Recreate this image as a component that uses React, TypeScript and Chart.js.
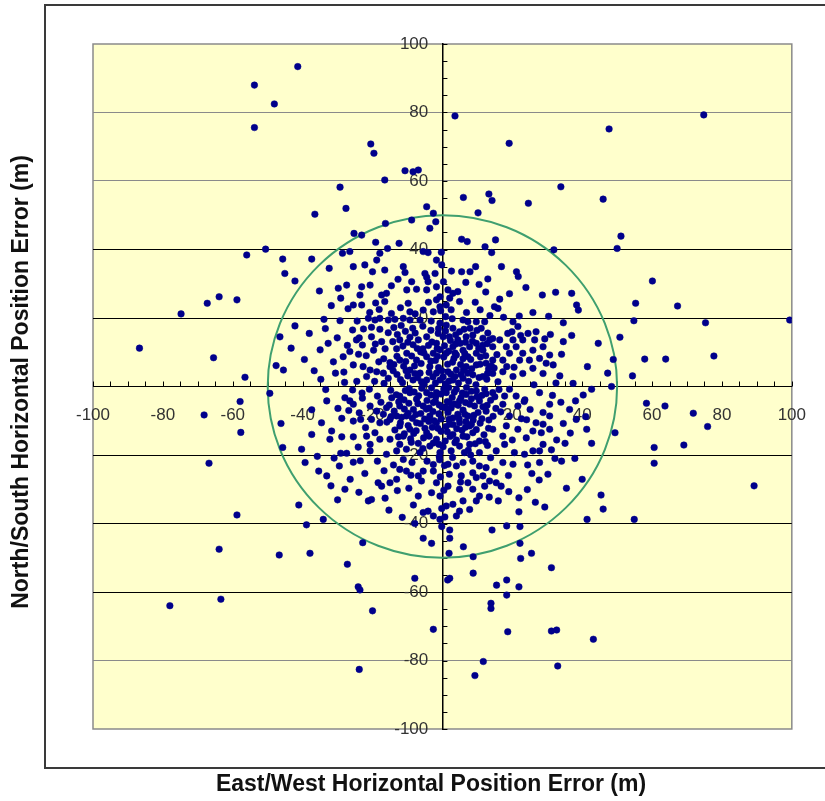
import React, { useEffect, useRef } from "react";
import { Chart, registerables } from "chart.js";

Chart.register(...registerables);

// Axis settings
const AXIS_MIN = -100;
const AXIS_MAX = 100;
const MAJOR_STEP = 20;
const MINOR_STEP = 5;
const CEP_RADIUS = 50; // green reference circle (m)
const GRAY_GRID_VALUES = [80, 60, -80];
const X_TITLE = "East/West Horizontal Position Error (m)";
const Y_TITLE = "North/South Horizontal Position Error (m)";

// [east, north] position errors in metres
const upperLeftPoints: number[][] = [
  [-41.4,93.4],[-53.8,88.0],[-48.1,82.5],[-53.8,75.6],[-20.5,70.8],[-19.6,68.1],[-10.7,63.0],[-8.4,62.7],[-6.9,63.2],[-16.5,60.3],
  [-29.3,58.2],[-27.6,52.0],[-36.5,50.3],[-16.3,47.6],[-8.8,48.6],[-25.3,44.7],[-23.1,44.2],[-19.1,42.1],[-15.7,40.3],[-12.4,41.8],
  [-28.6,38.9],[-26.5,39.4],[-56.0,38.4],[-50.6,40.1],[-45.7,37.2],[-37.4,37.2],[-45.1,33.0],[-42.2,30.8],[-32.4,34.5],[-25.5,35.0],
  [-22.2,35.5],[-18.8,36.9],[-16.5,34.0],[-11.2,35.0],[-29.8,28.7],[-27.4,29.6],[-23.1,29.1],[-20.7,29.6],[-35.2,27.9],[-23.6,26.7],
  [-16.0,27.2],[-10.2,28.2],[-67.3,24.3],[-63.9,26.2],[-58.8,25.3],[-74.8,21.2],[-25.5,23.8],[-23.1,23.8],[-16.5,24.8],[-9.8,24.3],
  [-9.3,21.8],[-42.2,17.7],[-38.1,15.5],[-33.9,19.6],[-29.3,19.2],[-25.7,16.5],[-46.5,14.5],[-43.3,11.2],[-86.7,11.2],[-65.5,8.4],
  [-35.0,10.7],[-32.7,12.6],[-39.5,7.9],[-47.6,6.1],[-45.5,4.8],[-56.5,2.7],[-34.8,2.1],[-31.2,7.2],[-28.4,8.7],[-26.5,10.2],
  [-17.9,38.9],[-5.5,39.4],[-4.1,39.1],[-20.0,33.5],[-10.7,33.3],[-5.0,33.0],[-4.5,31.9],[-4.1,30.6],[-8.8,30.6],[-7.4,28.4],
  [-17.4,26.7],[-4.5,28.2],[-1.7,25.3],[-0.7,23.3],[-5.5,22.3],[-2.6,21.8],[-21.2,19.9],[-19.3,19.4],[-17.9,19.9],[-15.5,19.4],
  [-13.6,19.6],[-11.2,19.9],[-9.3,19.4],[-6.4,19.4],[-20.3,17.3],[-17.9,16.7],[-20.3,14.5],[-15.5,15.7],[-17.4,13.1],[-12.2,13.6],
  [-9.3,14.4],[-6.9,13.6],[-4.5,14.5],[-25.5,6.3],[-22.7,5.8],[-20.7,4.8],[-21.7,2.9],[-18.8,4.3],[-16.9,3.9],[-15.0,5.8],
  [-15.5,2.4],[-12.2,7.7],[-10.2,9.7],[-7.4,7.7],[-4.5,8.7],[-2.6,9.7],[-0.7,10.7],[-9.3,4.8],[-6.4,3.9],[-3.6,5.8],
  [-1.7,3.9],[-8.4,1.9],[-4.5,1.9],[-0.7,1.9],[-2.1,33.0],[-1.7,29.1],[-0.7,26.2],[-0.7,18.5],[-1.2,15.5],[-1.7,12.6],[0.2,14.5],
];

const upperRightPoints: number[][] = [
  [3.6,79.0],[19.1,71.0],[47.7,75.2],[74.8,79.3],[33.9,58.3],[46.0,54.7],[24.6,53.5],[6.0,55.2],[13.3,56.2],[14.2,54.3],
  [10.2,50.7],[-4.5,52.5],[-2.6,50.6],[-1.9,48.1],[-3.6,46.2],[51.1,43.9],[50.0,40.3],[31.9,39.9],[5.5,43.0],[7.1,42.3],
  [15.2,42.8],[12.2,40.8],[14.1,39.1],[16.9,35.0],[21.2,33.5],[21.7,32.1],[2.6,33.7],[5.5,33.5],[7.9,33.5],[9.5,35.0],
  [-0.2,35.5],[-1.7,36.9],[10.5,29.8],[60.1,30.8],[55.3,24.3],[67.3,23.5],[28.6,26.7],[32.4,27.5],[37.0,27.2],[38.4,23.8],
  [38.9,22.3],[54.8,19.2],[75.3,18.6],[99.4,19.4],[34.6,18.6],[34.6,13.1],[34.1,9.4],[44.6,12.6],[50.8,14.4],[48.9,7.9],
  [57.9,8.0],[63.9,8.0],[77.7,8.9],[41.5,5.8],[47.3,3.9],[54.4,3.1],[33.6,3.1],[31.7,6.3],[29.3,13.9],[48.4,0.0],
  [42.7,-0.8],[40.3,-2.5],[37.4,0.9],
  [1.6,28.2],[3.0,27.2],[4.4,27.7],[2.1,25.8],[4.9,24.8],[1.1,23.8],[9.4,24.6],[16.4,25.5],[14.9,23.3],[15.9,22.8],
  [5.9,19.4],[7.3,18.9],[9.7,18.9],[12.1,18.9],[20.2,18.9],[21.6,17.5],
  [1.1,17.9],[3.0,17.0],[4.9,16.0],[2.0,14.5],[4.4,13.6],[6.8,14.5],[8.7,15.0],[11.1,17.0],[11.6,14.1],[13.5,13.6],
  [9.7,12.6],[7.8,11.6],[5.9,10.6],[3.0,11.6],[1.1,9.7],[4.0,9.2],[7.3,8.7],[9.7,9.7],[11.6,10.6],[14.4,11.6],
  [16.4,13.6],[18.7,15.5],[20.2,13.6],[18.3,11.6],[21.1,11.6],[23.0,13.6],[24.5,15.5],[26.8,16.0],[26.4,13.6],[28.8,11.6],
  [25.9,10.6],[23.0,9.7],[19.2,9.7],[17.3,7.7],[14.4,7.7],[12.5,6.8],[9.7,6.3],[6.8,5.8],[4.0,4.8],[1.6,4.3],
  [22.1,7.7],[24.9,7.7],[27.8,8.2],[30.7,9.2],[29.7,6.8],[25.9,5.3],[28.8,3.8],[23.0,3.8],[20.2,2.9],[17.3,4.3],
  [14.4,3.8],[11.6,2.9],[8.7,3.4],[5.9,2.4],[3.0,1.9],
];

const lowerLeftPoints: number[][] = [
  [-57.9,-4.4],[-68.2,-8.3],[-57.7,-13.4],[-49.4,-2.0],[-46.2,-10.8],[-66.8,-22.4],[-45.7,-17.8],[-29.1,-19.5],[-27.4,-19.5],[-28.8,-14.7],
  [-25.5,-14.7],[-41.1,-34.6],[-38.9,-40.4],[-58.8,-37.5],[-63.9,-47.5],[-46.7,-49.2],[-37.9,-48.7],[-27.2,-51.9],[-22.8,-45.6],[-24.1,-58.5],
  [-23.6,-59.4],[-20.0,-65.5],[-78.0,-64.0],[-63.4,-62.1],[-23.8,-82.6],[-7.9,-56.0],
  [-33.1,-4.2],[-27.9,-3.3],[-26.5,-4.2],[-25.5,-5.2],[-34.6,-10.6],[-28.8,-9.3],[-25.5,-10.1],[-23.4,-9.6],[-18.6,-2.8],[-14.5,-3.3],
  [-20.7,-5.7],[-18.8,-7.2],[-16.0,-6.2],[-16.9,-8.1],[-20.3,-9.6],[-17.9,-10.6],[-15.0,-9.6],[-31.7,-13.0],[-32.2,-15.4],[-37.4,-14.0],
  [-24.1,-17.7],[-20.7,-16.9],[-40.3,-18.3],[-39.3,-22.2],[-21.7,-14.5],[-19.3,-13.5],[-17.9,-15.4],[-20.7,-18.8],[-16.0,-19.8],[-15.0,-15.4],
  [-12.2,-16.9],[-13.1,-18.8],[-10.3,-18.3],[-11.2,-14.5],[-9.3,-12.5],[-7.4,-10.6],[-12.2,-11.5],[-10.3,-8.6],[-8.3,-6.7],[-12.2,-5.7],
  [-13.1,-8.6],[-7.4,-3.7],[-5.5,-5.7],[-2.6,-4.7],[-3.6,-8.6],[-1.7,-10.6],[-4.5,-13.5],[-1.7,-15.4],[-3.6,-17.4],[-6.4,-19.3],
  [-0.7,-19.3],[-1.7,-1.8],[-4.5,-1.8],[-9.3,-1.8],[-12.2,-2.8],[-33.1,-26.1],[-29.5,-23.2],[-22.2,-25.4],[-31.9,-29.0],[-27.9,-30.0],
  [-18.4,-28.1],[-17.4,-29.1],[-15.0,-28.1],[-21.2,-33.4],[-20.3,-33.0],[-12.2,-24.2],[-10.3,-24.7],[-13.1,-27.1],[-6.9,-26.1],[-5.5,-24.7],
  [-6.0,-27.6],[-2.6,-24.7],[-1.7,-28.1],[-0.7,-32.0],[-3.1,-31.0],[-6.9,-32.0],[-5.5,-36.8],[-4.1,-36.4],[-2.6,-37.8],[-0.7,-38.8],
  [-34.1,-38.8],
];

const lowerRightPoints: number[][] = [
  [58.4,-4.9],[63.7,-5.7],[71.8,-7.8],[75.9,-11.7],[60.6,-17.8],[60.6,-22.4],[69.1,-17.1],[89.2,-29.0],[49.4,-13.5],[42.7,-16.6],
  [41.3,-12.5],[41.0,-8.8],[34.6,-10.8],[32.7,-15.6],[35.1,-16.6],[31.2,-18.5],[34.1,-21.8],[37.9,-21.0],[40.0,-27.1],[35.5,-29.7],
  [45.4,-31.7],[46.0,-35.8],[41.4,-38.8],[54.9,-38.8],[27.7,-27.3],[24.4,-22.9],[21.9,-32.5],[21.9,-36.6],[22.2,-40.9],[16.0,-33.4],
  [18.4,-40.7],[14.2,-41.9],[22.2,-45.8],[22.4,-50.2],[25.5,-48.7],[31.2,-52.9],[8.8,-49.7],[8.8,-54.5],[6.0,-46.8],[2.1,-41.9],
  [2.1,-44.3],[1.9,-48.7],[1.5,-56.5],[2.1,-56.0],[-5.5,-44.3],[-3.1,-45.8],[15.5,-58.0],[18.4,-56.5],[18.4,-60.9],[21.9,-58.5],
  [13.9,-63.3],[13.9,-64.8],[-2.6,-70.9],[18.7,-71.6],[31.2,-71.4],[32.7,-71.1],[43.2,-73.8],[11.7,-80.3],[9.3,-84.4],[33.0,-81.6],
  [-0.2,-40.9],
  [1.1,-1.8],[4.0,-0.8],[6.8,-2.3],[9.7,-1.3],[12.1,-0.8],[2.0,-4.7],[4.9,-4.2],[7.8,-5.2],[10.6,-4.2],[1.6,-7.6],
  [4.4,-8.1],[7.3,-8.6],[10.2,-7.6],[12.5,-7.2],[2.0,-11.0],[4.9,-10.6],[7.8,-11.5],[3.0,-14.0],[5.9,-14.5],[8.7,-13.5],
  [4.9,-17.4],[7.8,-16.9],[10.6,-15.9],[2.5,-18.8],[6.3,-19.3],[10.6,-19.3],[14.4,-1.8],[17.8,-2.8],[21.1,-2.8],[17.3,-5.2],
  [21.6,-5.7],[19.2,-8.6],[27.8,-1.8],[30.7,-5.2],[28.8,-7.6],[30.7,-8.6],[28.8,-11.0],[26.8,-10.6],[25.9,-13.0],[28.3,-13.5],
  [24.0,-15.0],[21.6,-12.5],[14.4,-12.5],[17.3,-14.5],[17.8,-16.9],[15.4,-18.8],[20.6,-19.3],[23.5,-19.8],[25.9,-18.8],[28.8,-16.9],
  [27.8,-18.8],[36.4,-6.7],[38.3,-9.6],[30.7,-12.5],[1.6,-22.7],[4.0,-23.2],[5.9,-22.2],[8.7,-21.8],[10.6,-23.2],[12.5,-23.7],
  [17.3,-22.2],[20.2,-22.7],[27.8,-22.2],[2.0,-25.6],[5.4,-26.1],[8.7,-25.2],[9.7,-26.6],[11.6,-26.1],[13.5,-27.6],[7.3,-28.1],
  [1.6,-29.1],[4.9,-30.0],[8.7,-30.0],[12.1,-29.1],[15.4,-28.1],[16.8,-29.1],[10.6,-32.0],[3.0,-34.4],[5.9,-33.4],[9.7,-33.4],
  [4.9,-36.4],[7.8,-35.9],[4.0,-37.8],[1.1,-34.9],
];

const corePoints: number[][] = [
  [-14.2,13.1],[-11.3,11.8],[-8.4,12.2],[-5.6,11.0],[-3.0,13.0],[0.6,11.9],[2.3,13.4],[5.1,12.6],[8.6,13.2],[10.4,11.1],
  [12.8,12.5],[-6.2,10.1],[1.8,10.3],[6.4,9.6],
  [-16.8,8.1],[-13.9,6.4],[-11.1,5.9],[-8.8,8.9],[-6.1,6.7],[-2.0,7.6],[0.4,8.6],[2.9,7.1],[5.2,6.4],[8.1,7.9],
  [10.9,8.6],[13.2,5.1],[15.6,9.3],[-18.2,7.2],[-1.1,5.5],[3.6,9.8],
  [-13.0,3.5],[-11.4,1.1],[-7.1,2.6],[-5.3,0.6],[-2.7,2.8],[0.9,0.8],[2.4,3.6],[4.6,1.0],[7.2,3.9],[9.6,0.5],
  [12.7,2.1],[15.9,1.4],[-16.7,0.9],[-19.4,1.5],[-9.9,3.1],[-0.2,4.6],[6.0,4.8],
  [-14.8,-1.1],[-11.0,-3.9],[-9.5,-0.6],[-6.8,-2.7],[-4.4,-4.1],[-1.9,-3.0],[0.4,-0.7],[2.8,-3.2],[5.7,-1.9],[8.3,-3.6],
  [11.3,-2.6],[13.8,-4.0],[16.2,-0.9],[-17.6,-4.6],[-0.9,-5.4],[3.5,-5.1],[-3.1,-0.4],[6.9,-0.3],
  [-13.8,-7.2],[-10.9,-6.6],[-8.6,-9.3],[-6.2,-7.9],[-4.6,-6.6],[-1.0,-8.0],[0.9,-6.2],[3.0,-9.2],[5.9,-6.9],[8.8,-9.8],
  [11.6,-5.9],[14.5,-8.7],[-15.9,-10.4],[-2.4,-10.0],[6.7,-10.2],[1.4,-4.4],
  [-13.6,-12.7],[-10.9,-13.8],[-7.5,-12.9],[-5.4,-15.0],[-2.9,-11.9],[-0.4,-13.1],[2.2,-14.6],[4.1,-12.3],[6.6,-11.9],[9.7,-12.6],
  [11.9,-14.1],[-6.3,-10.8],[0.8,-15.9],
  [-8.9,-16.3],[-5.6,-18.1],[-2.6,-16.5],[0.2,-17.6],[3.6,-16.4],[7.4,-18.6],[-0.9,-20.5],[12.9,-17.2],
  [-0.5,22.1],[0.3,30.6],[-0.3,39.2],[0.6,-23.1],[-0.6,-26.4],[0.4,-30.3],[-0.2,-35.6],[0.7,-38.1],[-1.1,16.9],[0.9,20.4],[-0.8,-21.4],
];

const denseCorePoints: number[][] = [
  [-12.9,15.2],[-10.6,16.1],[-7.8,15.6],[-3.3,16.4],[0.9,16.2],[3.8,15.1],[6.2,16.7],[9.9,16.4],[13.0,15.6],
  [-13.1,11.0],[-9.9,12.9],[-7.2,11.1],[-4.0,12.0],[-1.5,11.1],[3.8,12.4],[6.6,12.9],[11.5,12.0],[14.4,14.0],
  [-15.0,7.0],[-13.0,8.8],[-10.5,7.3],[-8.0,6.0],[-5.3,9.8],[-3.3,7.4],[-1.4,8.8],[1.5,6.5],[3.3,8.2],[5.9,8.1],
  [8.4,5.2],[10.8,6.5],[12.4,9.0],[14.0,6.0],
  [-14.1,4.6],[-12.0,2.0],[-10.4,4.6],[-7.9,3.8],[-6.0,1.4],[-3.8,4.1],[-2.0,1.0],[0.2,2.8],[1.9,1.6],[3.6,2.9],
  [5.3,3.5],[7.5,1.5],[10.5,2.6],[12.9,3.8],[14.8,5.4],
  [-13.2,-2.4],[-10.6,-1.2],[-8.1,-1.6],[-5.9,-0.5],[-3.3,-2.5],[-0.4,-2.2],[1.8,-0.3],[3.4,-1.7],[5.3,-3.3],[8.3,-1.4],
  [9.9,-3.0],[12.5,-2.1],[15.0,-3.0],
  [-15.2,-5.4],[-12.5,-4.5],[-9.6,-4.9],[-7.0,-5.0],[-3.8,-6.3],[-2.0,-4.3],[-0.1,-6.0],[2.5,-6.3],[4.5,-5.5],[6.6,-4.7],
  [9.2,-5.7],[12.8,-5.5],[15.3,-6.4],
  [-14.7,-8.8],[-11.7,-9.0],[-9.8,-7.8],[-7.6,-8.2],[-5.1,-9.5],[-2.7,-7.3],[-0.4,-9.5],[1.9,-9.6],[4.8,-9.4],[6.4,-8.1],
  [9.0,-8.4],[11.3,-9.4],[13.3,-9.8],
  [-12.0,-10.6],[-9.8,-11.4],[-8.2,-13.7],[-5.0,-12.2],[-3.9,-10.2],[-1.3,-12.2],[1.0,-11.7],[3.0,-11.1],[5.6,-12.8],[8.3,-11.0],
  [10.8,-10.7],[13.2,-12.2],
  [-12.6,-14.7],[-9.1,-15.3],[-6.9,-16.6],[-3.8,-14.5],[-1.0,-16.9],[1.4,-13.2],[4.0,-15.6],[7.0,-14.7],[9.4,-16.7],[12.3,-16.1],
  [-13.9,17.2],[-11.8,17.8],[-8.5,17.0],[-5.6,17.6],[-3.2,19.1],[2.8,19.8],[7.9,17.0],[-22.9,12.1],[-24.0,9.4],[-19.7,10.6],[-16.4,11.0],
  [-11.2,-21.3],[-8.7,-22.2],[-4.4,-21.8],[-2.6,-22.8],[2.9,-20.7],[8.1,-20.0],[13.8,-20.8],
  [-20.8,21.6],[-18.1,22.5],[-14.6,21.3],[-12.0,23.0],[-7.8,21.2],[-4.0,24.6],[2.5,22.4],[6.9,21.6],[10.8,22.4],[13.6,20.7],
  [17.5,20.2],[19.9,16.0],[22.4,14.9],[-22.6,16.8],[-23.8,14.2],[-21.8,9.0],[-19.2,12.4],[18.4,5.8],[20.5,5.6],[16.7,-7.4],
  [18.3,-11.5],[20.0,-15.6],[22.6,-9.4],[23.4,-4.4],[19.2,-0.8],[-20.9,-0.8],[-22.9,-3.4],[-23.8,-7.7],[-22.0,-12.0],[-18.6,-21.8],
  [-14.0,-22.9],[-9.0,-25.9],[-16.7,-24.6],[5.2,-27.9],[15.0,-24.9],[18.9,-26.0],[-23.5,-21.7],[-25.7,-1.0],[-24.5,1.5],[-28.2,4.2],
];

const midRingPoints: number[][] = [
  [-30.1,14.2],[-27.2,12.0],[-24.6,13.6],[-30.6,3.9],[-28.0,1.2],[-33.4,-0.9],[-29.9,-6.4],[-26.8,-7.0],[-23.0,-1.9],[-31.0,-20.9],
  [-25.5,-22.1],[-26.4,-27.1],[-23.9,-30.9],[-12.9,-30.4],[-9.6,-29.7],[-8.3,-34.6],[-15.3,-36.1],[-11.5,-38.2],[13.4,-32.3],[19.0,-30.7],
  [24.3,-30.1],[25.6,-25.4],[30.2,-25.6],[32.2,-21.0],[31.5,-2.6],[33.9,-4.6],[25.1,-6.7],[24.1,-9.7],[23.6,-3.9],[26.2,0.5],
  [32.5,1.0],[30.9,15.2],[22.0,20.6],[25.9,21.6],[19.2,27.1],[12.4,27.6],[6.7,30.4],[23.9,28.9],[-12.7,31.3],[-14.6,29.4],
  [-19.1,24.4],[-27.0,22.7],[-31.8,23.6],[-29.1,25.8],[-24.4,19.1],[-33.5,16.9],[-36.7,4.6],[-37.4,-6.8],[-35.8,-20.4],[-35.4,-24.7],
  [-30.0,-33.1],[-16.4,-32.6],[-7.9,-40.0],[26.6,-33.8],[29.3,-35.2],[36.6,-13.6],[38.1,-4.2],[37.0,14.9],[30.4,20.5],[13.0,31.4],
];

const allPoints = [
  ...upperLeftPoints,
  ...upperRightPoints,
  ...lowerLeftPoints,
  ...lowerRightPoints,
  ...corePoints,
  ...denseCorePoints,
  ...midRingPoints,
];

const TICK_FONT = { family: '"Liberation Sans", Arial, sans-serif', size: 17 };
const TITLE_FONT = 'bold 23px "Liberation Sans", Arial, sans-serif';

const decorPlugin = {
  id: "decor",
  beforeDraw(chart: any) {
    const { ctx, chartArea: a, width, height } = chart;
    ctx.save();
    ctx.fillStyle = "#ffffff";
    ctx.fillRect(0, 0, width, height);
    // outer chart frame
    ctx.strokeStyle = "#3a3a3a";
    ctx.lineWidth = 2;
    ctx.strokeRect(45, 5, 820, 763);
    // plot area
    ctx.fillStyle = "#ffffcc";
    ctx.fillRect(a.left, a.top, a.right - a.left, a.bottom - a.top);
    ctx.strokeStyle = "#8a8a8a";
    ctx.lineWidth = 1.5;
    ctx.strokeRect(a.left, a.top, a.right - a.left, a.bottom - a.top);
    ctx.restore();
  },
  beforeDatasetsDraw(chart: any) {
    const { ctx } = chart;
    const xs = chart.scales.x;
    const ys = chart.scales.y;
    const x0 = xs.getPixelForValue(0);
    const y0 = ys.getPixelForValue(0);
    ctx.save();
    // minor tick marks
    ctx.strokeStyle = "#000";
    ctx.lineWidth = 1;
    ctx.beginPath();
    for (let v = AXIS_MIN; v <= AXIS_MAX; v += MINOR_STEP) {
      const px = Math.round(xs.getPixelForValue(v)) + 0.5;
      ctx.moveTo(px, y0);
      ctx.lineTo(px, y0 - 5);
      const py = Math.round(ys.getPixelForValue(v)) + 0.5;
      ctx.moveTo(x0, py);
      ctx.lineTo(x0 + 5, py);
    }
    ctx.stroke();
    // reference circle
    const rx = xs.getPixelForValue(CEP_RADIUS) - x0;
    const ry = ys.getPixelForValue(0) - ys.getPixelForValue(CEP_RADIUS);
    ctx.strokeStyle = "#3f9f6f";
    ctx.lineWidth = 2;
    ctx.beginPath();
    ctx.ellipse(x0, y0, rx, ry, 0, 0, Math.PI * 2);
    ctx.stroke();
    ctx.restore();
  },
  afterDraw(chart: any) {
    const { ctx } = chart;
    ctx.save();
    ctx.fillStyle = "#111";
    ctx.font = TITLE_FONT;
    ctx.textAlign = "center";
    ctx.textBaseline = "middle";
    ctx.fillText(X_TITLE, 431, 785);
    ctx.translate(22, 382);
    ctx.rotate(-Math.PI / 2);
    ctx.fillText(Y_TITLE, 0, 0);
    ctx.restore();
  },
};

export default function App() {
  const ref = useRef<HTMLCanvasElement | null>(null);
  useEffect(() => {
    if (!ref.current) return;
    const chart = new Chart(ref.current, {
      type: "scatter",
      data: {
        datasets: [
          {
            label: "Position error",
            data: allPoints.map(([x, y]) => ({ x, y })),
            pointStyle: "circle",
            pointRadius: 3.3,
            backgroundColor: "#00008b",
            borderColor: "#00008b",
            borderWidth: 0.5,
          },
        ],
      },
      options: {
        animation: false,
        responsive: false,
        devicePixelRatio: 1,
        layout: { padding: { left: 93, top: 44, right: 33, bottom: 72 } },
        plugins: { legend: { display: false }, tooltip: { enabled: false } },
        scales: {
          x: {
            type: "linear",
            min: AXIS_MIN,
            max: AXIS_MAX,
            position: { y: 0 },
            grid: { display: false, drawTicks: false },
            border: { display: true, color: "#000", width: 1 },
            ticks: {
              stepSize: MAJOR_STEP,
              autoSkip: false,
              maxRotation: 0,
              padding: 19,
              color: "#333",
              font: TICK_FONT,
            },
          },
          y: {
            type: "linear",
            min: AXIS_MIN,
            max: AXIS_MAX,
            position: { x: 0 },
            grid: {
              drawTicks: false,
              lineWidth: 1,
              color: (c: any) => {
                const v = c.tick ? c.tick.value : 0;
                if (v === AXIS_MIN || v === AXIS_MAX) return "rgba(0,0,0,0)";
                return GRAY_GRID_VALUES.includes(v) ? "#8a8a8a" : "#000";
              },
            },
            border: { display: true, color: "#000", width: 1.5 },
            ticks: {
              stepSize: MAJOR_STEP,
              autoSkip: false,
              color: "#333",
              font: TICK_FONT,
              callback: (v: any) => `${v}   `,
            },
          },
        },
      },
      plugins: [decorPlugin],
    });
    return () => chart.destroy();
  }, []);
  return (
    <div style={{ position: "absolute", left: 0, top: 0, width: 825, height: 801 }}>
      <canvas ref={ref} width={825} height={801} style={{ width: 825, height: 801, display: "block" }} />
    </div>
  );
}
